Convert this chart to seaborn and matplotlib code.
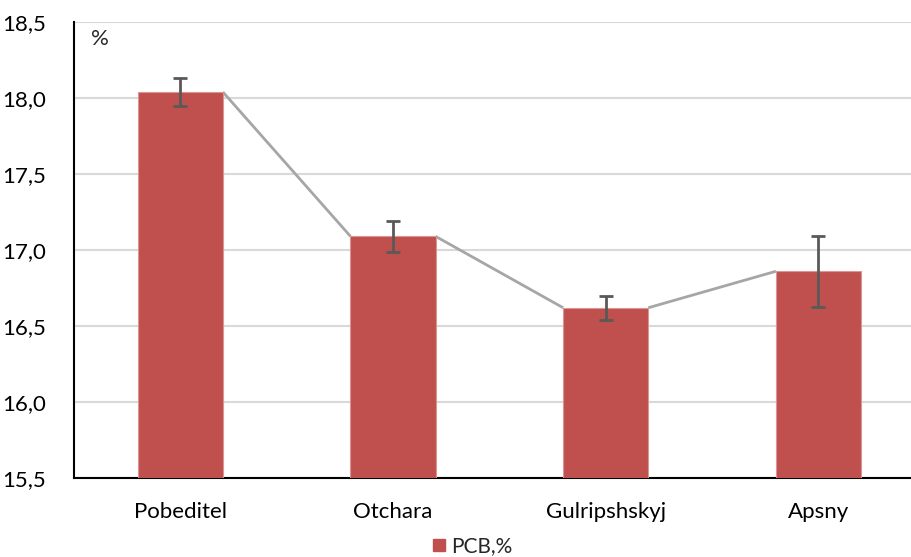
import matplotlib
matplotlib.use("Agg")
import matplotlib.pyplot as plt
import seaborn as sns
import numpy as np
import pandas as pd
from matplotlib.lines import Line2D
from matplotlib.ticker import FuncFormatter

categories = ["Pobeditel", "Otchara", "Gulripshskyj", "Apsny"]
values = [18.04, 17.09, 16.62, 16.86]
errors = [0.09, 0.10, 0.08, 0.235]
yticks = [15.5, 16.0, 16.5, 17.0, 17.5, 18.0, 18.5]

sns.set_theme(style="white")
plt.rcParams['font.family'] = ['Lato', 'DejaVu Sans']

bar_color = "#C0504D"
fig = plt.figure(figsize=(9.12, 5.57), dpi=100)
ax = fig.add_axes([0.0811, 0.1418, 0.9189, 0.8187])

df = pd.DataFrame({"cat": categories, "val": values})
w = 0.4
sns.barplot(data=df, x="cat", y="val", color=bar_color, width=w, ax=ax,
            saturation=1, zorder=3, errorbar=None, linewidth=0.8,
            edgecolor="#D99694")

xs = np.arange(len(categories))
ax.errorbar(xs, values, yerr=errors, fmt="none", ecolor="#595959",
            elinewidth=2, capsize=5, capthick=2, zorder=5)

# series lines connecting bar top corners
for i in range(len(categories) - 1):
    ax.plot([xs[i] + w / 2, xs[i + 1] - w / 2], [values[i], values[i + 1]],
            color="#A6A6A6", lw=2, zorder=2, solid_capstyle="butt")

ax.set_ylim(15.5, 18.5)
ax.set_xlim(-0.5, 3.44)
ax.set_yticks(yticks)
ax.yaxis.set_major_formatter(FuncFormatter(lambda v, p: f"{v:.1f}".replace(".", ",")))
ax.grid(axis="y", color="#D9D9D9", lw=1.5, zorder=0)
ax.set_axisbelow(True)
ax.set_xlabel("")
ax.set_ylabel("")
for s in ["top", "right"]:
    ax.spines[s].set_visible(False)
ax.spines["left"].set_color("black")
ax.spines["bottom"].set_color("black")
ax.spines["left"].set_linewidth(1.5)
ax.spines["bottom"].set_linewidth(1.5)
ax.tick_params(axis="both", length=0, labelsize=16, colors="#000000")
ax.tick_params(axis="x", pad=17)
ax.tick_params(axis="y", pad=20)

ax.text(0.02, 0.985, "%", transform=ax.transAxes, fontsize=16, va="top", ha="left")

handle = Line2D([], [], marker="s", linestyle="none", color=bar_color, markersize=9)
fig.legend([handle], ["PCB,%"], loc="center", bbox_to_anchor=(0.515, 0.02),
           frameon=False, fontsize=15, handletextpad=0.0, handlelength=1.2)

fig.savefig("out.png", dpi=100, facecolor="white")
